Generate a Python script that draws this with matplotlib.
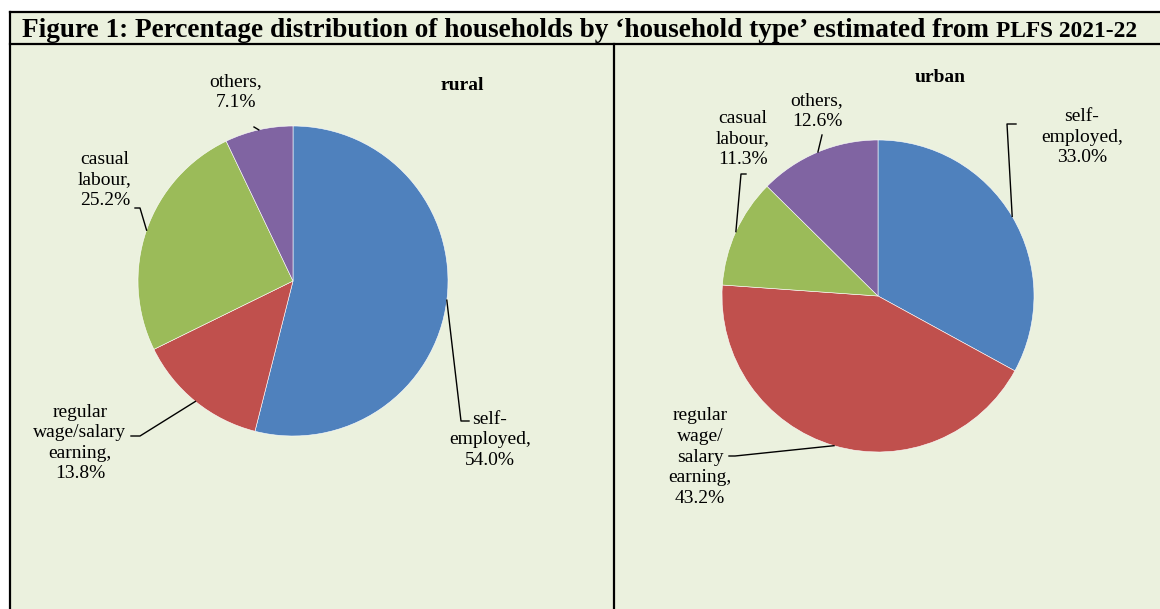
"""Household type distribution pies (rural / urban), PLFS 2021-22."""

import matplotlib
matplotlib.use("Agg")
import matplotlib.pyplot as plt
import numpy as np
from matplotlib.patches import Rectangle

W, H = 1160, 609

categories = ["self-employed", "regular wage/salary earning", "casual labour", "others"]
rural_values = [54.0, 13.8, 25.2, 7.1]
urban_values = [33.0, 43.2, 11.3, 12.6]
rural_labels = ["self-\nemployed,", "regular\nwage/salary\nearning,", "casual\nlabour,", "others,"]
urban_labels = ["self-\nemployed,", "regular\nwage/\nsalary\nearning,", "casual\nlabour,", "others,"]
colors = ["#4F81BD", "#C0504D", "#9BBB59", "#8064A2"]

BG = "#EBF1DE"
FONT = "Liberation Serif"


def Y(py):
    return H - py


fig = plt.figure(figsize=(W / 100, H / 100), dpi=100)
ax = fig.add_axes([0, 0, 1, 1])
ax.set_xlim(0, W)
ax.set_ylim(0, H)
ax.axis("off")

# frame and panels
ax.add_patch(Rectangle((10, 0), W, Y(12), facecolor=BG, edgecolor="none", zorder=0))
ax.plot([10, W], [Y(12), Y(12)], color="black", lw=1.6, zorder=1)
ax.plot([10, W], [Y(44), Y(44)], color="black", lw=1.6, zorder=1)
ax.plot([10, 10], [0, Y(12)], color="black", lw=1.6, zorder=1)
ax.plot([614, 614], [0, Y(44)], color="black", lw=1.6, zorder=1)

title = ax.text(22, Y(37), "Figure 1: Percentage distribution of households by \u2018household type\u2019 estimated from ",
                fontsize=19.6, fontweight="bold", family=FONT, va="baseline", ha="left")
ax.annotate("PLFS 2021-22", xy=(1, Y(37)), xycoords=(title, "data"), fontsize=16.8,
            fontweight="bold", family=FONT, va="baseline", ha="left")

panels = [
    dict(values=rural_values, labels=rural_labels, center=(293, 281), radius=155,
         name="rural", name_xy=(462, 85),
         text_xy=[(490, 440), (80, 443), (105, 180), (236, 92)],
         elbows=[[(461, 421), (469, 421)], [(140, 436), (131, 436)],
                 [(140, 208), (135, 208)], [(254, 127)]]),
    dict(values=urban_values, labels=urban_labels, center=(878, 296), radius=156,
         name="urban", name_xy=(940, 78),
         text_xy=[(1082, 137), (700, 457), (743, 139), (817, 111)],
         elbows=[[(1007, 124), (1016, 124)], [(735, 456), (729, 456)],
                 [(741, 174), (746, 174)], [(822, 135)]]),
]

for p in panels:
    cx, cy = p["center"]
    wedges, _ = ax.pie(p["values"], colors=colors, startangle=90, counterclock=False,
                       center=(cx, Y(cy)), radius=p["radius"], normalize=True,
                       wedgeprops=dict(edgecolor="white", linewidth=0.4),
                       frame=True)
    ax.set_xlim(0, W)
    ax.set_ylim(0, H)
    ax.axis("off")
    for w, val, lab, txy, elbow in zip(wedges, p["values"], p["labels"], p["text_xy"], p["elbows"]):
        mid = np.deg2rad((w.theta1 + w.theta2) / 2)
        ex = cx + p["radius"] * np.cos(mid)
        ey = Y(cy) + p["radius"] * np.sin(mid)
        xs = [ex] + [e[0] for e in elbow]
        ys = [ey] + [Y(e[1]) for e in elbow]
        ax.plot(xs, ys, color="black", lw=1.0, zorder=3)
        ax.text(txy[0], Y(txy[1]), f"{lab}\n{val:.1f}%", ha="center", va="center",
                fontsize=14, family=FONT, linespacing=1.28, zorder=4)
    ax.text(p["name_xy"][0], Y(p["name_xy"][1]), p["name"], ha="center", va="center",
            fontsize=14, fontweight="bold", family=FONT)

fig.savefig("out.png", dpi=100, facecolor="white")
